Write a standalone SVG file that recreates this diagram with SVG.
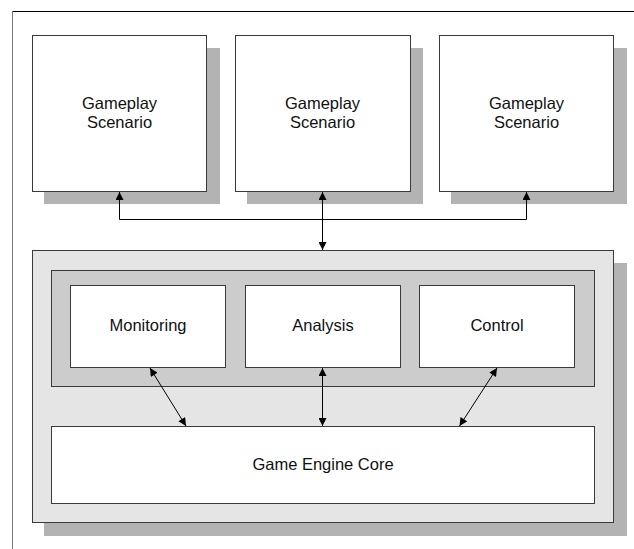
<svg xmlns="http://www.w3.org/2000/svg" width="634" height="549" viewBox="0 0 634 549">
<style>
.shadow{fill:#b3b3b3;stroke:none}
.box{fill:#ffffff;stroke:#3a3a3a;stroke-width:1}
.outer{fill:#e5e5e5;stroke:#3a3a3a;stroke-width:1}
.inner{fill:#cccccc;stroke:#3a3a3a;stroke-width:1}
.lbl{font-family:"Liberation Sans",Arial,sans-serif;font-size:16.5px;fill:#111;text-anchor:middle}
.conn{stroke:#000;stroke-width:1;fill:none}
</style>
<defs>
<marker id="ah" viewBox="0 0 10 10" refX="10" refY="5" markerWidth="9" markerHeight="8" markerUnits="userSpaceOnUse" orient="auto-start-reverse">
<path d="M0,0 L10,5 L0,10 Z" fill="#000"/>
</marker>
</defs>
<rect x="0" y="0" width="634" height="549" fill="#fff"/>
<g id="frame">
<line x1="12" y1="11.5" x2="634" y2="11.5" stroke="#000" stroke-width="1"/>
<line x1="12.5" y1="11" x2="12.5" y2="549" stroke="#777" stroke-width="1"/>
</g>
<g id="scenario1">
<rect class="shadow" x="44" y="48" width="176" height="156"/>
<rect class="box" x="32.5" y="35.5" width="174" height="156"/>
<text class="lbl" x="119.5" y="109">Gameplay</text>
<text class="lbl" x="119.5" y="128">Scenario</text>
</g>
<g id="scenario2">
<rect class="shadow" x="247" y="48" width="176" height="156"/>
<rect class="box" x="235.5" y="35.5" width="175" height="156"/>
<text class="lbl" x="322.5" y="109">Gameplay</text>
<text class="lbl" x="322.5" y="128">Scenario</text>
</g>
<g id="scenario3">
<rect class="shadow" x="451" y="48" width="176" height="156"/>
<rect class="box" x="439.5" y="35.5" width="174" height="156"/>
<text class="lbl" x="526.5" y="109">Gameplay</text>
<text class="lbl" x="526.5" y="128">Scenario</text>
</g>
<g id="engine">
<rect class="shadow" x="44" y="263" width="583" height="273"/>
<rect class="outer" x="32.5" y="250.5" width="581" height="272"/>
<rect class="inner" x="51.5" y="270.5" width="543" height="116"/>
</g>
<g id="monitoring">
<rect class="box" x="70.5" y="285.5" width="155" height="82"/>
<text class="lbl" x="148" y="330.5">Monitoring</text>
</g>
<g id="analysis">
<rect class="box" x="245.5" y="285.5" width="155" height="82"/>
<text class="lbl" x="323" y="330.5">Analysis</text>
</g>
<g id="control">
<rect class="box" x="419.5" y="285.5" width="155" height="82"/>
<text class="lbl" x="497" y="330.5">Control</text>
</g>
<g id="core">
<rect class="box" x="51.5" y="426.5" width="543" height="77"/>
<text class="lbl" x="323" y="470">Game Engine Core</text>
</g>
<g id="connectors">
<polyline class="conn" points="119.5,192 119.5,219.5 526.5,219.5 526.5,192" marker-start="url(#ah)" marker-end="url(#ah)"/>
<line class="conn" x1="322.5" y1="192" x2="322.5" y2="250" marker-start="url(#ah)" marker-end="url(#ah)"/>
<line class="conn" x1="150" y1="368" x2="186" y2="426" marker-start="url(#ah)" marker-end="url(#ah)"/>
<line class="conn" x1="322.5" y1="368" x2="322.5" y2="426" marker-start="url(#ah)" marker-end="url(#ah)"/>
<line class="conn" x1="497" y1="368" x2="459.5" y2="426" marker-start="url(#ah)" marker-end="url(#ah)"/>
</g>
</svg>
